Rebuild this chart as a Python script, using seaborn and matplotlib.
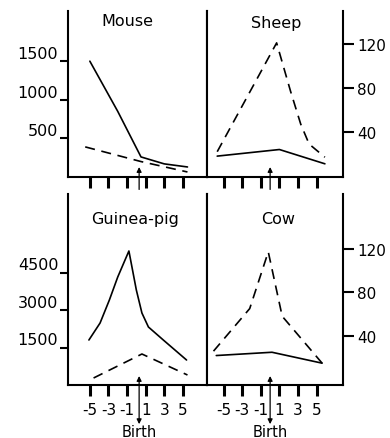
import matplotlib
matplotlib.use("Agg")
import matplotlib.pyplot as plt
import seaborn as sns
import pandas as pd

# values (x = days from birth)
mouse_solid_x = [-5, -2, 0.5, 3, 5.5]
mouse_solid_y = [1500, 850, 260, 170, 130]
mouse_dash_x = [-5.5, 0.5, 5.5]
mouse_dash_y = [390, 200, 65]

sheep_solid_x = [-5.7, 1, 5.9]
sheep_solid_y = [18, 24, 11]
sheep_dash_x = [-5.7, 0.7, 2.2, 3.3, 4.2, 5.9]
sheep_dash_y = [22, 121, 77, 47, 29, 17]

guinea_solid_x = [-5.1, -3.9, -2.9, -2, -0.8, 0, 0.6, 1.3, 2.9, 5.4]
guinea_solid_y = [1800, 2480, 3400, 4320, 5360, 3800, 2880, 2320, 1800, 1000]
guinea_dash_x = [-4.6, 0.6, 5.5]
guinea_dash_y = [280, 1240, 400]

cow_solid_x = [-5.8, 0.2, 5.6]
cow_solid_y = [22, 25, 15]
cow_dash_x = [-6.1, -2.2, -0.2, 1.3, 5.6]
cow_dash_y = [26, 65, 117, 58, 15]

x_ticks = [-5, -3, -1, 1, 3, 5]
x_labels = ["-5", "-3", "-1", "1", "3", "5"]
mouse_ticks = [500, 1000, 1500]
guinea_ticks = [1500, 3000, 4500]
right_ticks = [40, 80, 120]

sns.set_style("ticks", {"text.color": "black", "xtick.color": "black",
                        "ytick.color": "black", "axes.edgecolor": "black"})
plt.rcParams["font.family"] = ["DejaVu Sans"]
plt.rcParams["font.size"] = 11

fig = plt.figure(figsize=(3.9, 4.39), dpi=100)
W, H = 390, 439


def box(x0, x1, y0, y1):
    return [x0 / W, 1 - y1 / H, (x1 - x0) / W, (y1 - y0) / H]


axes = {
    "Mouse": fig.add_axes(box(68, 207, 12, 178)),
    "Sheep": fig.add_axes(box(207, 343, 12, 178)),
    "Guinea-pig": fig.add_axes(box(68, 207, 195, 386)),
    "Cow": fig.add_axes(box(207, 343, 195, 386)),
}
panels = {
    "Mouse": (mouse_solid_x, mouse_solid_y, mouse_dash_x, mouse_dash_y, (0, 2150), mouse_ticks, "left", (0.43, 0.94)),
    "Sheep": (sheep_solid_x, sheep_solid_y, sheep_dash_x, sheep_dash_y, (-1, 150), right_ticks, "right", (0.51, 0.93)),
    "Guinea-pig": (guinea_solid_x, guinea_solid_y, guinea_dash_x, guinea_dash_y, (0, 7640), guinea_ticks, "left", (0.48, 0.87)),
    "Cow": (cow_solid_x, cow_solid_y, cow_dash_x, cow_dash_y, (-5, 170), right_ticks, "right", (0.52, 0.87)),
}

for name, ax in axes.items():
    sx, sy, dx, dy, ylim, yt, side, tpos = panels[name]
    bottom_row = name in ("Guinea-pig", "Cow")
    sns.lineplot(data=pd.DataFrame({"x": sx, "y": sy}), x="x", y="y", ax=ax,
                 color="black", linewidth=1.2, sort=False)
    sns.lineplot(data=pd.DataFrame({"x": dx, "y": dy}), x="x", y="y", ax=ax,
                 color="black", linewidth=1.2, sort=False, linestyle=(0, (6, 4)))
    ax.set_ylim(*ylim)
    if side == "left":
        ax.set_xlim(-7.35, 7.6)
        arrow_x = 0.3
    else:
        ax.set_xlim(-6.8, 7.85)
        arrow_x = 0.0
    ax.set_xlabel("")
    ax.set_ylabel("")
    for s in ("left", "right", "bottom"):
        ax.spines[s].set_visible(True)
        ax.spines[s].set_linewidth(1.5)
        ax.spines[s].set_color("black")
    ax.spines["top"].set_visible(False)

    ax.set_xticks(x_ticks)
    ax.tick_params(axis="x", direction="out", length=8, width=2.2, color="black",
                   labelcolor="black", labelbottom=bottom_row, pad=4, labelsize=11)
    if bottom_row:
        ax.set_xticklabels(x_labels)

    ax.set_yticks(yt)
    if side == "left":
        ax.yaxis.set_ticks_position("left")
        ax.tick_params(axis="y", direction="out", length=6, width=1.5, pad=1,
                       labelsize=11.5, color="black", labelcolor="black")
        for lab in ax.get_yticklabels():
            lab.set_verticalalignment("bottom")
    else:
        ax.yaxis.tick_right()
        ax.tick_params(axis="y", direction="out", length=8, width=1.5, pad=2,
                       labelsize=11, color="black", labelcolor="black")

    ax.text(tpos[0], tpos[1], name, transform=ax.transAxes, ha="center", va="center",
            fontsize=11.5, color="black")

    trans = ax.get_xaxis_transform()
    if bottom_row:
        ax.annotate("", xy=(arrow_x, 0.047), xytext=(arrow_x, -0.205), xycoords=trans,
                    textcoords=trans, annotation_clip=False,
                    arrowprops=dict(arrowstyle="<|-|>", color="black", lw=0.9,
                                    mutation_scale=7, shrinkA=0, shrinkB=0))
        ax.text(arrow_x, -0.245, "Birth", transform=trans, ha="center", va="center",
                fontsize=10.5, color="black")
    else:
        ax.annotate("", xy=(arrow_x, 0.06), xytext=(arrow_x, -0.075), xycoords=trans,
                    textcoords=trans, annotation_clip=False,
                    arrowprops=dict(arrowstyle="-|>", color="black", lw=0.9,
                                    mutation_scale=7, shrinkA=0, shrinkB=0))

fig.savefig("out.png", dpi=100)
